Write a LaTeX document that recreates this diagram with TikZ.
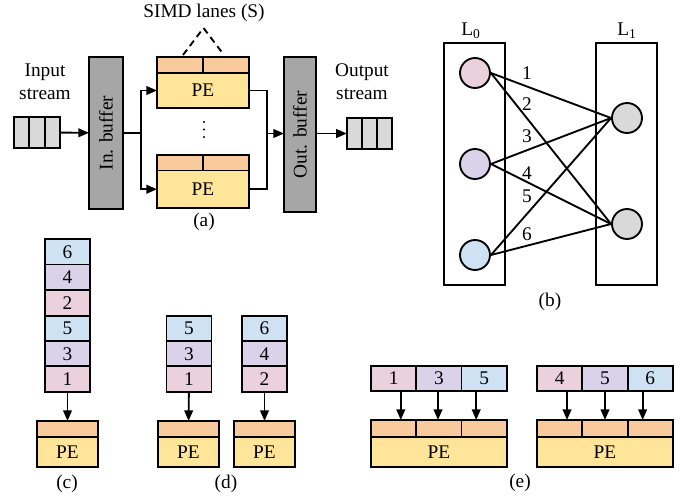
\documentclass[tikz,border=0pt]{standalone}
\usepackage{fontspec}
\setmainfont{Liberation Serif}
\usetikzlibrary{arrows.meta}

\definecolor{qgray}{RGB}{217,217,217}
\definecolor{bufgray}{RGB}{166,166,166}
\definecolor{peyellow}{RGB}{255,229,153}
\definecolor{laneorange}{RGB}{249,203,156}
\definecolor{wpink}{RGB}{234,209,220}
\definecolor{wlav}{RGB}{217,210,233}
\definecolor{wblue}{RGB}{207,226,243}

\tikzset{every picture/.style={line width=1.4pt},
  box/.style={draw, inner sep=0pt, outer sep=0pt},
  qcell/.style={box, fill=qgray, minimum width=11.5pt, minimum height=23.25pt},
  buffer/.style={box, fill=bufgray, rotate=90},
  lane/.style={box, fill=laneorange, minimum width=34.5pt, minimum height=11.6pt},
  pebody/.style={box, fill=peyellow, minimum width=69pt, minimum height=26.6pt},
  layer/.style={box, minimum width=45.75pt, minimum height=181.5pt},
  neuron/.style={circle, draw, inner sep=0pt, minimum size=22.5pt},
  wcell/.style={box, minimum width=33.75pt, minimum height=19pt},
  rcell/.style={box, minimum width=34pt, minimum height=18.75pt},
  slot/.style={box, fill=laneorange, minimum width=45.75pt, minimum height=12pt},
  smallpe/.style={box, fill=peyellow, minimum width=45.75pt, minimum height=22.5pt},
  wideslot/.style={box, fill=laneorange, minimum width=34pt, minimum height=12.5pt},
  widepe/.style={box, fill=peyellow, minimum width=102pt, minimum height=22.5pt},
  flow/.style={-{Triangle[length=8pt,width=6.5pt]}}}

\begin{document}
\begin{tikzpicture}[x=0.75pt,y=0.75pt,yscale=-1,xscale=1,font=\fontsize{14.5}{17.25}\selectfont]
\useasboundingbox (0,0) rectangle (694,497);

%% ---------------- (a) SIMD pipeline
% Text Node
\node[align=center] (instream) at (45,82) {Input\\stream};
\node[align=center] (outstream) at (362,82) {Output\\stream};
\node (simd) at (204,13) {SIMD lanes (S)};

%Shape: input queue
\node[qcell] (qi1) at (21.7,132.5) {};
\node[qcell] (qi2) at (37,132.5) {};
\node[qcell] (qi3) at (52.3,132.5) {};
%Shape: output queue
\node[qcell] (qo1) at (354.5,133.5) {};
\node[qcell] (qo2) at (369.5,133.5) {};
\node[qcell] (qo3) at (384.5,133.5) {};

%Shape: buffers
\node[buffer, minimum width=114pt, minimum height=25.5pt] (inbuf) at (106,133) {In. buffer};
\node[buffer, minimum width=116.25pt, minimum height=24pt] (outbuf) at (300,134.5) {Out. buffer};

%Shape: upper PE
\node[lane] (la1) at (180,64.75) {};
\node[lane] (la2) at (226,64.75) {};
\node[pebody] (pe1) at (203,90.5) {PE};
%Shape: lower PE
\node[lane] (lb1) at (180,162.75) {};
\node[lane] (lb2) at (226,162.75) {};
\node[pebody, minimum height=28.1pt] (pe2) at (203,189.25) {PE};

% vertical dots between the PEs
\fill (204,122) circle (1.1);
\fill (204,129.5) circle (1.1);
\fill (204,137) circle (1.1);

% lanes brace
\coordinate (tip) at (203.5,28);
\coordinate (tipl) at (183,55);
\coordinate (tipr) at (224,55);
\draw[dash pattern={on 5pt off 3.5pt}] (tipl) -- (tip) -- (tipr);

% connectors
\coordinate (split) at (141,133);
\coordinate (merge) at (267,133.5);
\draw[flow] (qi3) -- (inbuf);
\draw (inbuf.south) -- (split);
\draw[flow] (split) |- (pe1.west);
\draw[flow] (split) |- (pe2.west);
\draw (pe1.east) -| (merge);
\draw (pe2.east) -| (merge);
\draw[flow] (merge) -- (merge -| outbuf.north);
\draw[flow] (outbuf.south |- qo1) -- (qo1);

\node (capa) at (204,222) {(a)};

%% ---------------- (b) layers
\node (l0) at (471,31) {L\textsubscript{0}};
\node (l1) at (627,31) {L\textsubscript{1}};
\node[layer] (boxl0) at (474.5,164) {};
\node[layer] (boxl1) at (626.5,164) {};

%Shape: Circle
\node[neuron, fill=wpink] (n1) at (475,73) {};
\node[neuron, fill=wlav] (n2) at (475,164) {};
\node[neuron, fill=wblue] (n3) at (475,255) {};
\node[neuron, fill=qgray] (m1) at (627,118) {};
\node[neuron, fill=qgray] (m2) at (627,224) {};

\draw (n1.east) -- (m1.west);
\draw (n1.east) -- (m2.west);
\draw (n2.east) -- (m1.west);
\draw (n2.east) -- (m2.west);
\draw (n3.east) -- (m1.west);
\draw (n3.east) -- (m2.west);

% Text Node
\node (w1) at (527,73) {1};
\node (w2) at (527,104) {2};
\node (w3) at (527,136) {3};
\node (w4) at (527,173) {4};
\node (w5) at (527,196) {5};
\node (w6) at (527,234) {6};

\node (capb) at (550,302) {(b)};

%% ---------------- (c) one PE, one stream
\node[wcell, fill=wblue] (c6) at (67.5,251.8) {6};
\node[wcell, fill=wlav] (c4) at (67.5,277.2) {4};
\node[wcell, fill=wpink] (c2) at (67.5,302.8) {2};
\node[wcell, fill=wblue] (c5) at (67.5,328.3) {5};
\node[wcell, fill=wlav] (c3) at (67.5,353.7) {3};
\node[wcell, fill=wpink] (c1) at (67.5,379) {1};
\node[slot] (cs) at (67.5,429) {};
\node[smallpe] (cpe) at (67.5,452) {PE};
\draw[flow] (c1) -- (cs);
\node (capc) at (67,484) {(c)};

%% ---------------- (d) two PEs
\node[wcell, fill=wblue] (da5) at (189,328.3) {5};
\node[wcell, fill=wlav] (da3) at (189,353.7) {3};
\node[wcell, fill=wpink] (da1) at (189,379) {1};
\node[wcell, fill=wblue] (db6) at (264.5,328.3) {6};
\node[wcell, fill=wlav] (db4) at (264.5,353.7) {4};
\node[wcell, fill=wpink] (db2) at (264.5,379) {2};
\node[slot] (das) at (188.5,429) {};
\node[smallpe] (dape) at (188.5,452) {PE};
\node[slot] (dbs) at (264.5,429) {};
\node[smallpe] (dbpe) at (264.5,452) {PE};
\draw[flow] (da1) -- (das);
\draw[flow] (db2) -- (dbs);
\node (capd) at (226,484) {(d)};

%% ---------------- (e) three lanes per PE
\node[rcell, fill=wpink] (ea1) at (393.8,378.5) {1};
\node[rcell, fill=wlav] (ea3) at (439,378.5) {3};
\node[rcell, fill=wblue] (ea5) at (484.2,378.5) {5};
\node[wideslot] (esa1) at (393.8,428.35) {};
\node[wideslot] (esa2) at (439,428.35) {};
\node[wideslot] (esa3) at (484.2,428.35) {};
\node[widepe] (epea) at (439,451.7) {PE};
\draw[flow] ([xshift=5.25pt]ea1.south) -- ([xshift=5.25pt]esa1.north);
\draw[flow] ([xshift=-0.75pt]ea3.south) -- ([xshift=-0.75pt]esa2.north);
\draw[flow] ([xshift=-6pt]ea5.south) -- ([xshift=-6pt]esa3.north);

\node[rcell, fill=wpink] (eb4) at (559.7,378.5) {4};
\node[rcell, fill=wlav] (eb5) at (605,378.5) {5};
\node[rcell, fill=wblue] (eb6) at (650.3,378.5) {6};
\node[wideslot] (esb1) at (559.7,428.35) {};
\node[wideslot] (esb2) at (605,428.35) {};
\node[wideslot] (esb3) at (650.3,428.35) {};
\node[widepe] (epeb) at (605,451.7) {PE};
\draw[flow] ([xshift=5.5pt]eb4.south) -- ([xshift=5.5pt]esb1.north);
\draw[flow] (eb5) -- (esb2);
\draw[flow] ([xshift=-5.75pt]eb6.south) -- ([xshift=-5.75pt]esb3.north);

\node (cape) at (520,483) {(e)};

\end{tikzpicture}
\end{document}
